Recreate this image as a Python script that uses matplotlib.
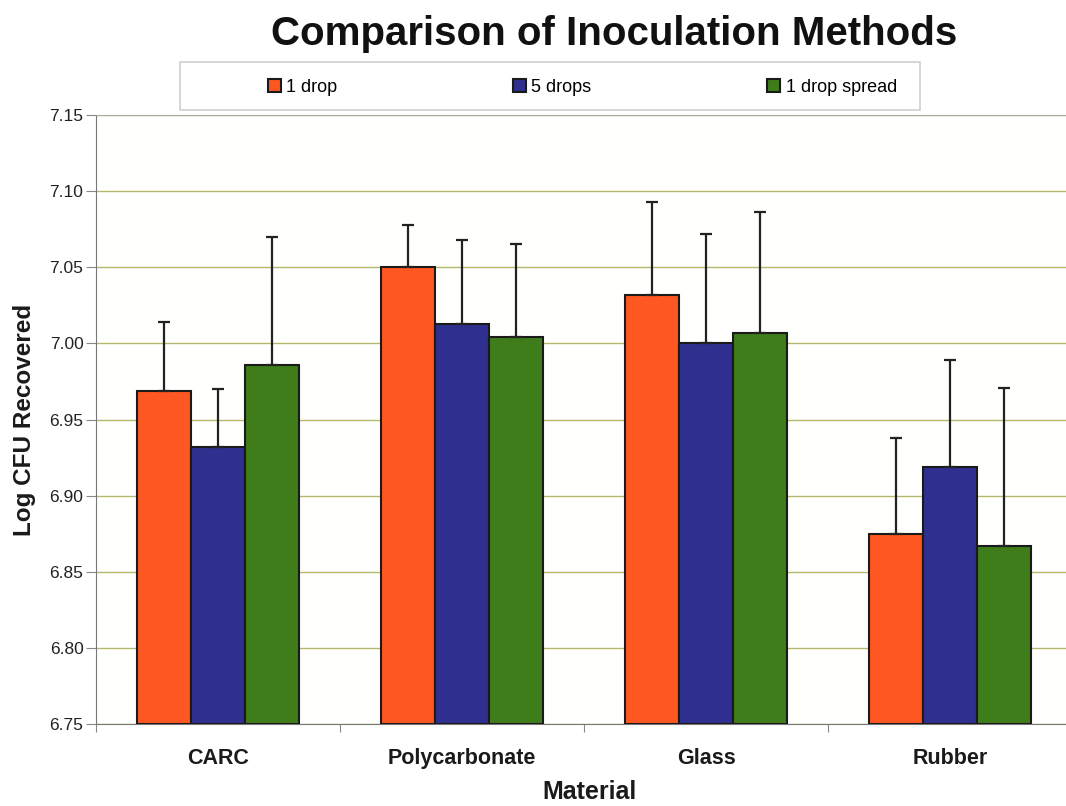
import matplotlib
matplotlib.use("Agg")
import matplotlib.pyplot as plt
from matplotlib.patches import Rectangle
import numpy as np

categories = ["CARC", "Polycarbonate", "Glass", "Rubber"]
series_names = ["1 drop", "5 drops", "1 drop spread"]
one_drop = [6.969, 7.050, 7.032, 6.875]
five_drops = [6.932, 7.013, 7.000, 6.919]
drop_spread = [6.986, 7.004, 7.007, 6.867]
err_one = [0.045, 0.028, 0.061, 0.063]
err_five = [0.038, 0.055, 0.072, 0.070]
err_spread = [0.084, 0.061, 0.079, 0.104]
yticks = [6.75, 6.80, 6.85, 6.90, 6.95, 7.00, 7.05, 7.10, 7.15]

colors = ["#FF5722", "#2F2F8F", "#3F7D1B"]
values = [one_drop, five_drops, drop_spread]
errs = [err_one, err_five, err_spread]

plt.rcParams['font.family'] = ['Liberation Sans', 'DejaVu Sans']

W, H = 1066, 806
fig = plt.figure(figsize=(W / 100, H / 100), dpi=100)
ax = fig.add_axes([96/W, 1-724/H, 976/W, (724-115)/H])

x = np.arange(len(categories))
w = 0.222
for i, (vals, er, c, name) in enumerate(zip(values, errs, colors, series_names)):
    pos = x + (i - 1) * w
    ax.bar(pos, np.array(vals) - 6.75, bottom=6.75, width=w, color=c,
           edgecolor="#1a1a1a", linewidth=1.5, label=name, zorder=3)
    ax.errorbar(pos, vals, yerr=[np.zeros(len(er)), er], fmt="none",
                ecolor="#222222", elinewidth=1.6, capsize=4, capthick=1.6, zorder=4)

ax.set_xlim(-0.5, 3.5)
ax.set_ylim(6.75, 7.15)
ax.set_yticks(yticks)
ax.set_yticklabels([f"{t:.2f}" for t in yticks], fontsize=12.5, color="#222222")
ax.set_xticks(np.arange(-0.5, 4.0, 1.0), minor=False)
ax.set_xticklabels([])
ax.set_xticks(x, minor=True)
ax.set_xticklabels(categories, minor=True, fontsize=15.5, fontweight="bold", color="#1a1a1a")
ax.tick_params(axis="x", which="minor", length=0, pad=17)
ax.tick_params(axis="x", which="major", length=6, color="#888888", direction="out")
ax.tick_params(axis="y", length=7, color="#888888", direction="out", pad=2)
ax.yaxis.grid(True, color="#B5B86A", linewidth=1.0, zorder=0)
ax.set_axisbelow(True)
for s in ["right"]:
    ax.spines[s].set_visible(False)
ax.spines["top"].set_color("#aaaaaa")
ax.spines["left"].set_color("#777777")
ax.spines["bottom"].set_color("#777777")
ax.set_facecolor("#FFFFFD")

ax.set_ylabel("Log CFU Recovered", fontsize=17.5, fontweight="bold", labelpad=10, color="#1a1a1a")
fig.text(590/W, 1-792/H, "Material", fontsize=18, fontweight="bold",
         ha="center", va="center", color="#1a1a1a")
fig.text(614/W, 1-45/H, "Comparison of Inoculation Methods", fontsize=29,
         fontweight="bold", ha="center", va="baseline", color="#111111")

fig.patches.append(Rectangle((180/W, 1-110/H), 740/W, 48/H, transform=fig.transFigure,
                             facecolor="white", edgecolor="#d0d0d0", linewidth=1.2, zorder=0))
leg = fig.legend(loc="center left", ncol=3,
                 bbox_to_anchor=(268/W, 1-87/H),
                 fontsize=13, frameon=False,
                 handlelength=0.7, handleheight=0.7, handletextpad=0.3,
                 columnspacing=9.75, borderaxespad=0.0, borderpad=0.0)

fig.savefig("out.png", dpi=100)
